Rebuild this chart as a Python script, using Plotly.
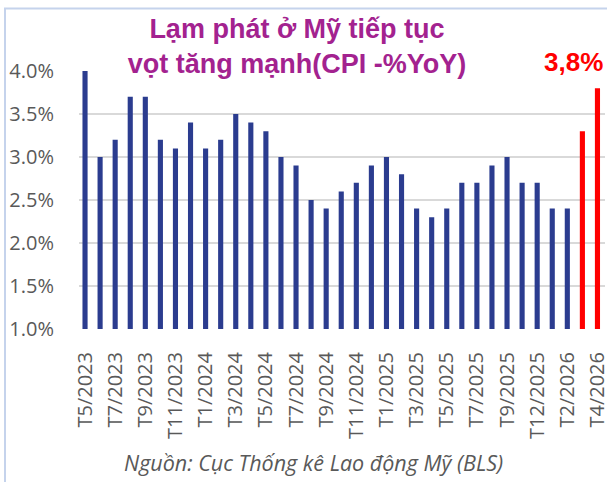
import plotly.graph_objects as go

# US CPI, % YoY (BLS) - Oct 2025 not published
months = ["T5/2023", "T6/2023", "T7/2023", "T8/2023", "T9/2023", "T10/2023", "T11/2023", "T12/2023",
          "T1/2024", "T2/2024", "T3/2024", "T4/2024", "T5/2024", "T6/2024", "T7/2024", "T8/2024",
          "T9/2024", "T10/2024", "T11/2024", "T12/2024", "T1/2025", "T2/2025", "T3/2025", "T4/2025",
          "T5/2025", "T6/2025", "T7/2025", "T8/2025", "T9/2025", "T11/2025", "T12/2025",
          "T1/2026", "T2/2026", "T3/2026", "T4/2026"]
cpi_yoy = [4.0, 3.0, 3.2, 3.7, 3.7, 3.2, 3.1, 3.4,
           3.1, 3.2, 3.5, 3.4, 3.3, 3.0, 2.9, 2.5,
           2.4, 2.6, 2.7, 2.9, 3.0, 2.8, 2.4, 2.3,
           2.4, 2.7, 2.7, 2.9, 3.0, 2.7, 2.7,
           2.4, 2.4, 3.3, 3.8]
highlighted = ["T3/2026", "T4/2026"]
tick_labels = ["T5/2023", "T7/2023", "T9/2023", "T11/2023", "T1/2024", "T3/2024", "T5/2024",
               "T7/2024", "T9/2024", "T11/2024", "T1/2025", "T3/2025", "T5/2025", "T7/2025",
               "T9/2025", "T12/2025", "T2/2026", "T4/2026"]
y_ticks = [1.0, 1.5, 2.0, 2.5, 3.0, 3.5, 4.0]

W, H = 607, 482
ML, MR, MT, MB = 79, 2, 71, 153
PW, PH = W - ML - MR, H - MT - MB

def px_x(x):  # pixel -> paper x
    return (x - ML) / PW

def px_y(y):  # pixel -> paper y
    return (H - MB - y) / PH

bar_colors = ["#FF0000" if m in highlighted else "#2B3C8F" for m in months]

fig = go.Figure(go.Bar(
    x=months, y=cpi_yoy,
    marker=dict(color=bar_colors, line=dict(width=0)),
    hovertemplate="%{x}: %{y:.1f}%<extra></extra>",
))

fig.update_layout(
    width=W, height=H,
    margin=dict(l=ML, r=MR, t=MT, b=MB, autoexpand=False),
    paper_bgcolor="white", plot_bgcolor="white",
    bargap=0.66,
    showlegend=False,
    font=dict(family="Open Sans, sans-serif", color="#595959"),
    title=dict(
        text="Lạm phát ở Mỹ tiếp tục<br>vọt tăng mạnh(CPI -%YoY)",
        font=dict(size=27, color="#A3228F", family="Liberation Sans, Arial, sans-serif", weight="bold"),
        x=297 / W, xanchor="center", xref="container",
        y=1 - 38 / H, yanchor="middle", yref="container",
    ),
    xaxis=dict(
        type="category",
        range=[-0.4, len(months) - 0.5],
        tickmode="array", tickvals=tick_labels, ticktext=tick_labels,
        tickangle=-90,
        tickfont=dict(size=20, color="#595959"),
        ticks="outside", ticklen=14, tickcolor="rgba(0,0,0,0)",
        showgrid=False, showline=False, zeroline=False,
    ),
    yaxis=dict(
        range=[1.0, 4.0],
        tickmode="array", tickvals=y_ticks,
        ticktext=[f"{v:.1f}%" for v in y_ticks],
        tickfont=dict(size=20, color="#595959"),
        ticks="outside", ticklen=20, tickcolor="rgba(0,0,0,0)",
        showgrid=True, gridcolor="#D9D9D9", gridwidth=2,
        zeroline=False, showline=False,
    ),
)

fig.add_annotation(
    text="<b>3,8%</b>", xref="paper", yref="paper",
    x=px_x(605), y=px_y(62), xanchor="right", yanchor="middle",
    showarrow=False, font=dict(size=26, color="#FF0000", family="Liberation Sans, Arial, sans-serif"),
)

fig.add_annotation(
    text="Nguồn: Cục Thống kê Lao động Mỹ (BLS)", xref="paper", yref="paper",
    x=px_x(313), y=px_y(462), xanchor="center", yanchor="middle",
    showarrow=False, font=dict(size=21.5, color="#595959", family="Open Sans, sans-serif", style="italic"),
)

# frame lines on the left and top of the picture
fig.add_shape(type="line", xref="paper", yref="paper",
              x0=px_x(5), x1=px_x(5), y0=px_y(8), y1=px_y(H + 2),
              line=dict(color="#C5D3EC", width=2))
fig.add_shape(type="line", xref="paper", yref="paper",
              x0=px_x(4), x1=px_x(W + 2), y0=px_y(8.5), y1=px_y(8.5),
              line=dict(color="#C5D3EC", width=2))

# drop the default page margin so the figure sits at the window's corner
fig.write_html("out.html", config={"displayModeBar": False},
               post_script="document.body.style.margin='0';")
